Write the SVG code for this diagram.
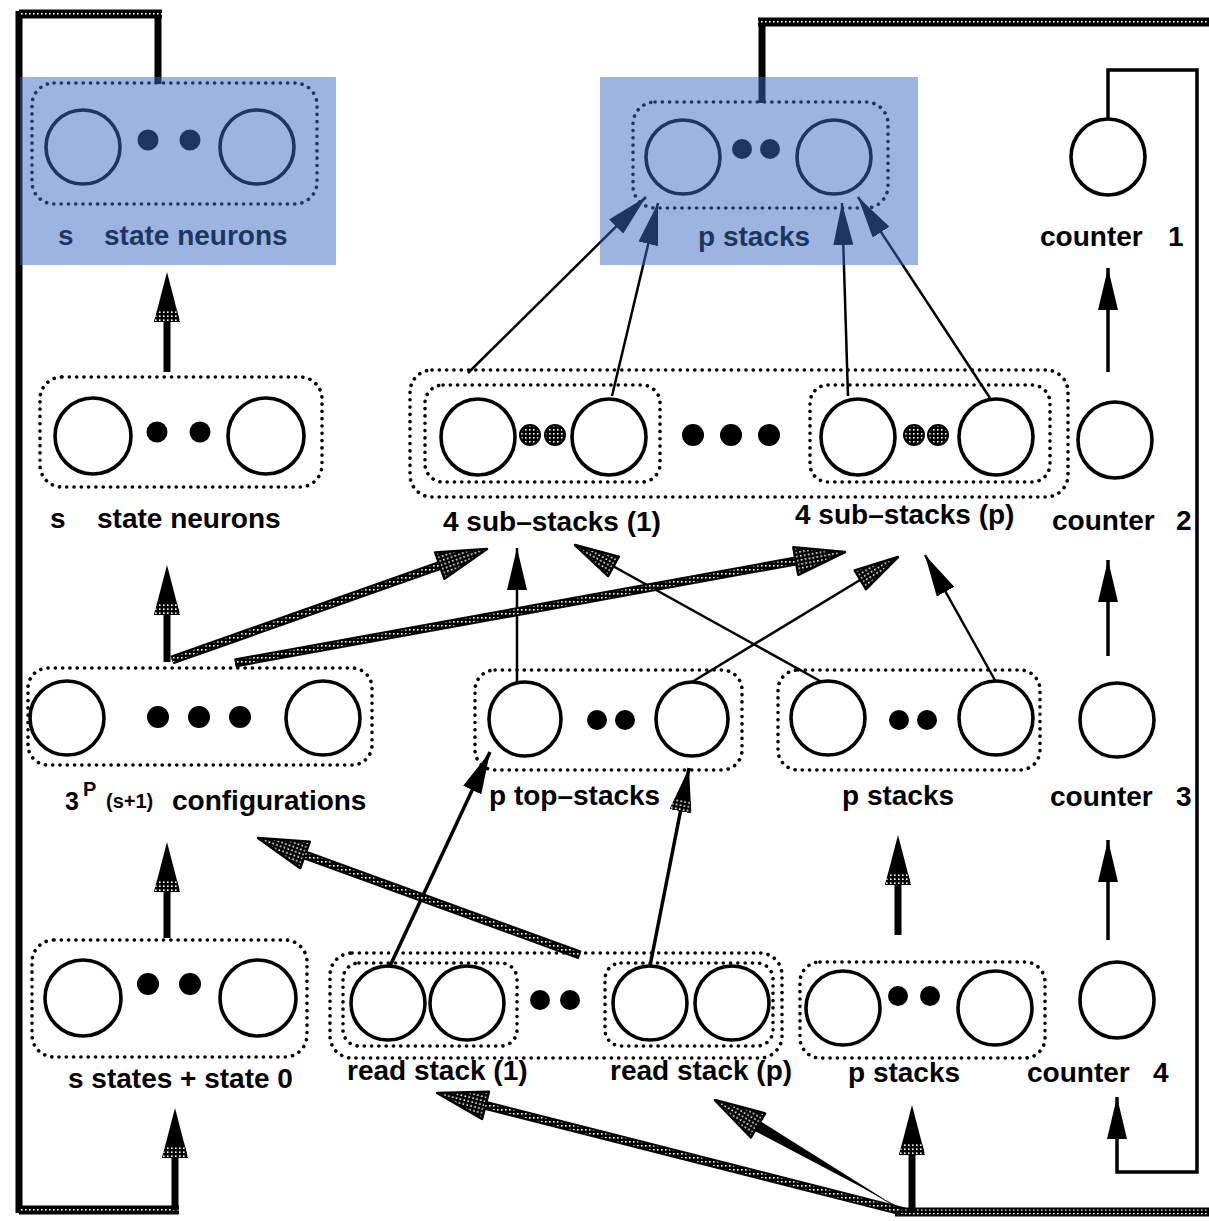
<svg xmlns="http://www.w3.org/2000/svg" width="1209" height="1221" viewBox="0 0 1209 1221">
<defs>
<pattern id="dots" width="4" height="4" patternUnits="userSpaceOnUse">
<rect width="4" height="4" fill="#000"/>
<rect x="1" y="1" width="1.6" height="1.6" fill="#fff"/>
</pattern>
<marker id="hb" markerUnits="userSpaceOnUse" viewBox="0 0 42 20" markerWidth="42" markerHeight="20" refX="42" refY="10" orient="auto">
<path d="M0,0 L42,10 L0,20 Z" fill="#000"/>
</marker>
<marker id="hmt" markerUnits="userSpaceOnUse" viewBox="0 0 44 22" markerWidth="44" markerHeight="22" refX="44" refY="11" orient="auto">
<path d="M0,0 L44,11 L0,22 Z" fill="#000"/>
<path d="M0,0 L12,3 L12,19 L0,22 Z" fill="url(#dots)"/>
</marker>
<marker id="hst" markerUnits="userSpaceOnUse" viewBox="0 0 44 22" markerWidth="44" markerHeight="22" refX="44" refY="11" orient="auto" overflow="visible">
<path d="M0,0 L44,11 L0,22 Z" fill="url(#dots)" stroke="#000" stroke-width="2.5" stroke-linejoin="round"/>
</marker>
<marker id="hm" markerUnits="userSpaceOnUse" viewBox="0 0 50 26" markerWidth="50" markerHeight="26" refX="0" refY="13" orient="auto">
<path d="M0,0 L50,13 L0,26 Z" fill="#000"/>
<path d="M0,0 L12,3.1 L12,22.9 L0,26 Z" fill="url(#dots)"/>
</marker>
<marker id="hs" markerUnits="userSpaceOnUse" viewBox="0 0 50 28" markerWidth="50" markerHeight="28" refX="0" refY="14" orient="auto" overflow="visible">
<path d="M0,0 L50,14 L0,28 Z" fill="url(#dots)" stroke="#000" stroke-width="2.5" stroke-linejoin="round"/>
</marker>
</defs>
<style>
.box{fill:none;stroke:#000;stroke-width:3.6;stroke-dasharray:0.1 7.2;stroke-linecap:round}
.c{fill:none;stroke:#000;stroke-width:3.6}
.d{fill:#000}
.ds{fill:url(#dots);stroke:#000;stroke-width:2}
.lbl{font-family:"Liberation Sans",Arial,sans-serif;font-weight:bold;font-size:28px;fill:#000}
.sm{font-size:20px}
.thin{fill:none;stroke:#000;stroke-width:2.5}
.med{fill:none;stroke:#000;stroke-width:3.5}
.thick{fill:none;stroke:#000;stroke-width:7}
.ho{fill:none;stroke:#000;stroke-width:9}
.hi{fill:none;stroke:url(#dots);stroke-width:5}
.hl{fill:#3a6abf;opacity:0.5}
</style>
<rect width="1209" height="1221" fill="#fff"/>

<g id="n-state-top">
<rect class="box" x="32" y="83" width="285" height="121" rx="22"/>
<ellipse class="c" cx="83" cy="147" rx="37" ry="37"/>
<ellipse class="c" cx="257" cy="147" rx="37" ry="37"/>
<circle class="d" cx="148" cy="140" r="10.5"/>
<circle class="d" cx="190" cy="140" r="10.5"/>
<text class="lbl" y="245"><tspan x="58">s</tspan><tspan x="104">state neurons</tspan></text>
</g>

<g id="n-pstacks-top">
<rect class="box" x="633" y="102" width="255" height="106" rx="22"/>
<ellipse class="c" cx="683" cy="157" rx="37" ry="37"/>
<ellipse class="c" cx="834" cy="157" rx="37" ry="37"/>
<circle class="d" cx="742" cy="149" r="10"/>
<circle class="d" cx="770" cy="149" r="10"/>
<text class="lbl" x="698" y="246">p stacks</text>
</g>

<g id="n-counter1">
<ellipse class="c" cx="1108" cy="157" rx="37" ry="38"/>
<text class="lbl" y="246"><tspan x="1040">counter</tspan><tspan x="1168">1</tspan></text>
</g>

<g id="n-state-mid">
<rect class="box" x="40" y="377" width="282" height="110" rx="22"/>
<ellipse class="c" cx="93" cy="436" rx="38" ry="38"/>
<ellipse class="c" cx="266" cy="436" rx="38" ry="38"/>
<circle class="d" cx="157" cy="432" r="10.5"/>
<circle class="d" cx="200" cy="432" r="10.5"/>
<text class="lbl" y="528"><tspan x="50">s</tspan><tspan x="97">state neurons</tspan></text>
</g>

<g id="n-substacks">
<rect class="box" x="410" y="370" width="658" height="127" rx="22"/>
<rect class="box" x="425" y="385" width="235" height="97" rx="18"/>
<rect class="box" x="810" y="385" width="240" height="97" rx="18"/>
<ellipse class="c" cx="478" cy="437" rx="37" ry="38"/>
<ellipse class="c" cx="609" cy="437" rx="37" ry="38"/>
<ellipse class="c" cx="858" cy="437" rx="37" ry="38"/>
<ellipse class="c" cx="996" cy="437" rx="37" ry="38"/>
<circle class="ds" cx="530" cy="435" r="10"/>
<circle class="ds" cx="555" cy="435" r="10"/>
<circle class="ds" cx="914" cy="435" r="10"/>
<circle class="ds" cx="938" cy="435" r="10"/>
<circle class="d" cx="693" cy="435" r="11"/>
<circle class="d" cx="731" cy="435" r="11"/>
<circle class="d" cx="769" cy="435" r="11"/>
<text class="lbl" x="443" y="531">4 sub–stacks (1)</text>
<text class="lbl" x="795" y="524">4 sub–stacks (p)</text>
</g>

<g id="n-counter2">
<ellipse class="c" cx="1115" cy="440" rx="37" ry="38"/>
<text class="lbl" y="530"><tspan x="1052">counter</tspan><tspan x="1176">2</tspan></text>
</g>

<g id="n-config">
<rect class="box" x="28" y="668" width="344" height="97" rx="20"/>
<ellipse class="c" cx="67" cy="718" rx="37" ry="37"/>
<ellipse class="c" cx="323" cy="718" rx="37" ry="37"/>
<circle class="d" cx="158" cy="717" r="11"/>
<circle class="d" cx="199" cy="717" r="11"/>
<circle class="d" cx="240" cy="717" r="11"/>
<text class="lbl" y="810"><tspan x="65" font-size="25">3</tspan><tspan x="83" y="796" class="sm">P</tspan><tspan x="106" y="808" class="sm">(s+1)</tspan><tspan x="172" y="810">configurations</tspan></text>
</g>

<g id="n-topstacks">
<rect class="box" x="475" y="670" width="267" height="100" rx="20"/>
<ellipse class="c" cx="525" cy="719" rx="36" ry="37"/>
<ellipse class="c" cx="692" cy="719" rx="36" ry="37"/>
<circle class="d" cx="597" cy="720" r="10"/>
<circle class="d" cx="625" cy="720" r="10"/>
<text class="lbl" x="489" y="805">p top–stacks</text>
</g>

<g id="n-pstacks-mid">
<rect class="box" x="778" y="670" width="262" height="100" rx="20"/>
<ellipse class="c" cx="828" cy="718" rx="37" ry="37"/>
<ellipse class="c" cx="996" cy="718" rx="37" ry="37"/>
<circle class="d" cx="899" cy="720" r="10"/>
<circle class="d" cx="927" cy="720" r="10"/>
<text class="lbl" x="842" y="805">p stacks</text>
</g>

<g id="n-counter3">
<ellipse class="c" cx="1117" cy="720" rx="37" ry="37"/>
<text class="lbl" y="806"><tspan x="1050">counter</tspan><tspan x="1176">3</tspan></text>
</g>

<g id="n-states0">
<rect class="box" x="32" y="940" width="275" height="117" rx="22"/>
<ellipse class="c" cx="83" cy="998" rx="38" ry="38"/>
<ellipse class="c" cx="258" cy="998" rx="38" ry="38"/>
<circle class="d" cx="148" cy="984" r="11"/>
<circle class="d" cx="190" cy="984" r="11"/>
<text class="lbl" x="68" y="1088">s states + state 0</text>
</g>

<g id="n-readstack">
<rect class="box" x="330" y="953" width="452" height="105" rx="22"/>
<rect class="box" x="343" y="963" width="174" height="83" rx="16"/>
<rect class="box" x="605" y="963" width="168" height="83" rx="16"/>
<ellipse class="c" cx="388" cy="1003" rx="37" ry="37"/>
<ellipse class="c" cx="467" cy="1003" rx="37" ry="37"/>
<ellipse class="c" cx="650" cy="1003" rx="37" ry="37"/>
<ellipse class="c" cx="732" cy="1003" rx="37" ry="37"/>
<circle class="d" cx="540" cy="1000" r="10"/>
<circle class="d" cx="570" cy="1000" r="10"/>
<text class="lbl" x="347" y="1080">read stack (1)</text>
<text class="lbl" x="610" y="1080">read stack (p)</text>
</g>

<g id="n-pstacks-bot">
<rect class="box" x="800" y="962" width="245" height="96" rx="20"/>
<ellipse class="c" cx="843" cy="1008" rx="37" ry="37"/>
<ellipse class="c" cx="995" cy="1008" rx="37" ry="37"/>
<circle class="d" cx="898" cy="996" r="10"/>
<circle class="d" cx="930" cy="996" r="10"/>
<text class="lbl" x="848" y="1082">p stacks</text>
</g>

<g id="n-counter4">
<ellipse class="c" cx="1117" cy="1000" rx="37" ry="38"/>
<text class="lbl" y="1082"><tspan x="1027">counter</tspan><tspan x="1153">4</tspan></text>
</g>

<g id="connectors">
<path class="thick" d="M19,11 V1213"/>
<path class="thick" d="M158,14 V84"/>
<path class="ho" d="M19,14 H162"/>
<path class="hi" d="M19,14 H162"/>
<path class="ho" d="M19,1210 H179"/>
<path class="hi" d="M19,1210 H179"/>
<path class="thick" d="M175,1210 V1158" marker-end="url(#hm)"/>
<path class="thick" d="M762,22 V103"/>
<path class="ho" d="M758,22 H1215"/>
<path class="hi" d="M758,22 H1215"/>
<path class="ho" d="M895,1212 H1215"/>
<path class="hi" d="M895,1212 H1215"/>
<path class="med" d="M1108,119 V70 H1197 V1172 H1117 V1097" marker-end="url(#hb)"/>
<path class="med" d="M1108,372 V268" marker-end="url(#hb)"/>
<path class="med" d="M1108,656 V560" marker-end="url(#hb)"/>
<path class="med" d="M1108,940 V840" marker-end="url(#hb)"/>
<path class="thick" d="M167,372 V322" marker-end="url(#hm)"/>
<path class="thick" d="M167,662 V615" marker-end="url(#hm)"/>
<path class="thick" d="M167,938 V892" marker-end="url(#hm)"/>
<path class="thick" d="M898,935 V885" marker-end="url(#hm)"/>
<path class="thick" d="M912,1212 V1155" marker-end="url(#hm)"/>
<path class="thin" d="M468,373 L646,197" marker-end="url(#hb)"/>
<path class="thin" d="M612,396 L658,203" marker-end="url(#hb)"/>
<path class="thin" d="M848,396 L842,203" marker-end="url(#hb)"/>
<path class="thin" d="M990,398 L858,197" marker-end="url(#hb)"/>
<path class="thin" d="M517,683 V548" marker-end="url(#hb)"/>
<path class="thin" d="M996,682 L925,555" marker-end="url(#hb)"/>
<path class="thin" d="M820,681 L575,545" marker-end="url(#hst)"/>
<path class="thin" d="M692,682 L898,557" marker-end="url(#hst)"/>
<path class="ho" d="M172,660 L439.8,565.6" marker-end="url(#hs)"/>
<path class="hi" d="M172,660 L439.8,565.6"/>
<path class="ho" d="M235,663 L795.8,561" marker-end="url(#hs)"/>
<path class="hi" d="M235,663 L795.8,561"/>
<path class="med" d="M390,966 L490,752" marker-end="url(#hb)"/>
<path class="med" d="M650,966 L689,768" marker-end="url(#hmt)"/>
<path class="ho" d="M580,955 L305,855" marker-end="url(#hs)"/>
<path class="hi" d="M580,955 L305,855"/>
<path class="ho" d="M905,1212 L485.5,1105.3" marker-end="url(#hs)"/>
<path class="hi" d="M905,1212 L485.5,1105.3"/>
<path fill="#000" d="M908,1214 L901,1208 L753,1130 L760,1121 Z"/>
<path fill="none" stroke="#000" stroke-width="1" d="M905,1212 L758,1125.4" marker-end="url(#hs)"/>
</g>

<g id="highlights">
<rect class="hl" x="20" y="77" width="316" height="188"/>
<rect class="hl" x="600" y="77" width="318" height="188"/>
</g>
</svg>
